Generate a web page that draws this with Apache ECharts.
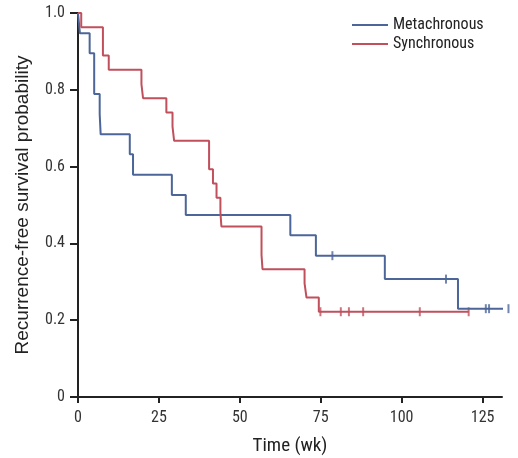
<!DOCTYPE html>
<html><head><meta charset="utf-8">
<script src="https://cdn.jsdelivr.net/npm/echarts@6/dist/echarts.min.js"></script>
<style>html,body{margin:0;padding:0;background:#fff}#c{width:518px;height:458px}</style>
</head><body><div id="c"></div>
<script>
// Kaplan-Meier step data (time in weeks, survival probability)
const metaTimes = [0, 0.6, 3.6, 5.0, 6.7, 7.0, 16.0, 17.0, 29.0, 33.3, 65.6, 73.5, 94.8, 117.4, 134];
const metaSurv  = [1.0, 0.947, 0.895, 0.789, 0.737, 0.684, 0.632, 0.579, 0.526, 0.474, 0.421, 0.368, 0.307, 0.230, 0.230];
const metaCensorTimes = [78.6, 113.7, 126.0, 127.0, 133.0];
const metaCensorSurv  = [0.368, 0.307, 0.230, 0.230, 0.230];

const syncTimes = [0, 1.0, 7.7, 9.5, 19.6, 20.1, 27.3, 29.2, 29.7, 40.5, 41.7, 42.8, 44.0, 44.3, 56.7, 57.0, 70.0, 70.6, 74.4, 120.7];
const syncSurv  = [1.0, 0.963, 0.889, 0.852, 0.815, 0.778, 0.741, 0.704, 0.667, 0.593, 0.556, 0.519, 0.481, 0.444, 0.370, 0.333, 0.296, 0.259, 0.222, 0.222];
const syncCensorTimes = [74.9, 81.2, 83.7, 88.1, 105.6, 120.7];
const syncCensorSurv  = [0.222, 0.222, 0.222, 0.222, 0.222, 0.222];

const xTicks = [0, 25, 50, 75, 100, 125];
const yTicks = [0, 0.2, 0.4, 0.6, 0.8, 1.0];

const BLUE = '#4d6699';
const RED = '#c0505c';
const FONT = '"Liberation Sans Narrow", "Roboto Condensed", "Arial Narrow", Roboto, sans-serif';
const TITLE_FONT = '"Liberation Sans", Arial, sans-serif';

const zip = (a, b) => a.map((v, i) => [v, b[i]]);

const chart = echarts.init(document.getElementById('c'));
chart.setOption({
  animation: false,
  grid: { left: 78, right: 16, top: 13, bottom: 61, containLabel: false, outerBoundsMode: 'none' },
  legend: {
    data: ['Metachronous', 'Synchronous'],
    orient: 'vertical', left: 347, top: 12, itemGap: 3,
    icon: 'rect', itemWidth: 36, itemHeight: 2,
    textStyle: { fontFamily: FONT, fontSize: 16, color: '#222' }
  },
  xAxis: {
    type: 'value', min: 0, max: 131, interval: 25,
    name: 'Time (wk)', nameLocation: 'middle', nameGap: 40,
    nameTextStyle: { fontFamily: FONT, fontSize: 19, color: '#222' },
    axisLine: { lineStyle: { color: '#222', width: 2 } },
    axisTick: { show: true, length: 6, lineStyle: { color: '#222', width: 2 },
      customValues: xTicks },
    axisLabel: { fontFamily: FONT, fontSize: 16, color: '#333', margin: 13, customValues: xTicks },
    splitLine: { show: false }
  },
  yAxis: {
    type: 'value', min: 0, max: 1, interval: 0.2,
    name: 'Recurrence-free survival probability', nameLocation: 'middle', nameGap: 46,
    nameTextStyle: { fontFamily: TITLE_FONT, fontSize: 19, color: '#222' },
    axisLine: { show: true, lineStyle: { color: '#222', width: 2 } },
    axisTick: { show: true, length: 8, lineStyle: { color: '#222', width: 2 }, customValues: yTicks },
    axisLabel: { fontFamily: FONT, fontSize: 16, color: '#333', margin: 13, customValues: yTicks,
      formatter: v => v === 0 ? '0' : v.toFixed(1) },
    splitLine: { show: false }
  },
  series: [
    { name: 'Metachronous', type: 'line', step: 'end', data: zip(metaTimes, metaSurv),
      showSymbol: false, clip: false, lineStyle: { color: BLUE, width: 2 }, itemStyle: { color: BLUE } },
    { name: 'Synchronous', type: 'line', step: 'end', data: zip(syncTimes, syncSurv),
      showSymbol: false, clip: false, lineStyle: { color: RED, width: 2 }, itemStyle: { color: RED } },
    { name: 'mc', type: 'scatter', data: zip(metaCensorTimes, metaCensorSurv), clip: false,
      symbol: 'rect', symbolSize: [2, 9], itemStyle: { color: BLUE } },
    { name: 'sc', type: 'scatter', data: zip(syncCensorTimes, syncCensorSurv), clip: false,
      symbol: 'rect', symbolSize: [2, 9], itemStyle: { color: RED } }
  ]
});
</script></body></html>
